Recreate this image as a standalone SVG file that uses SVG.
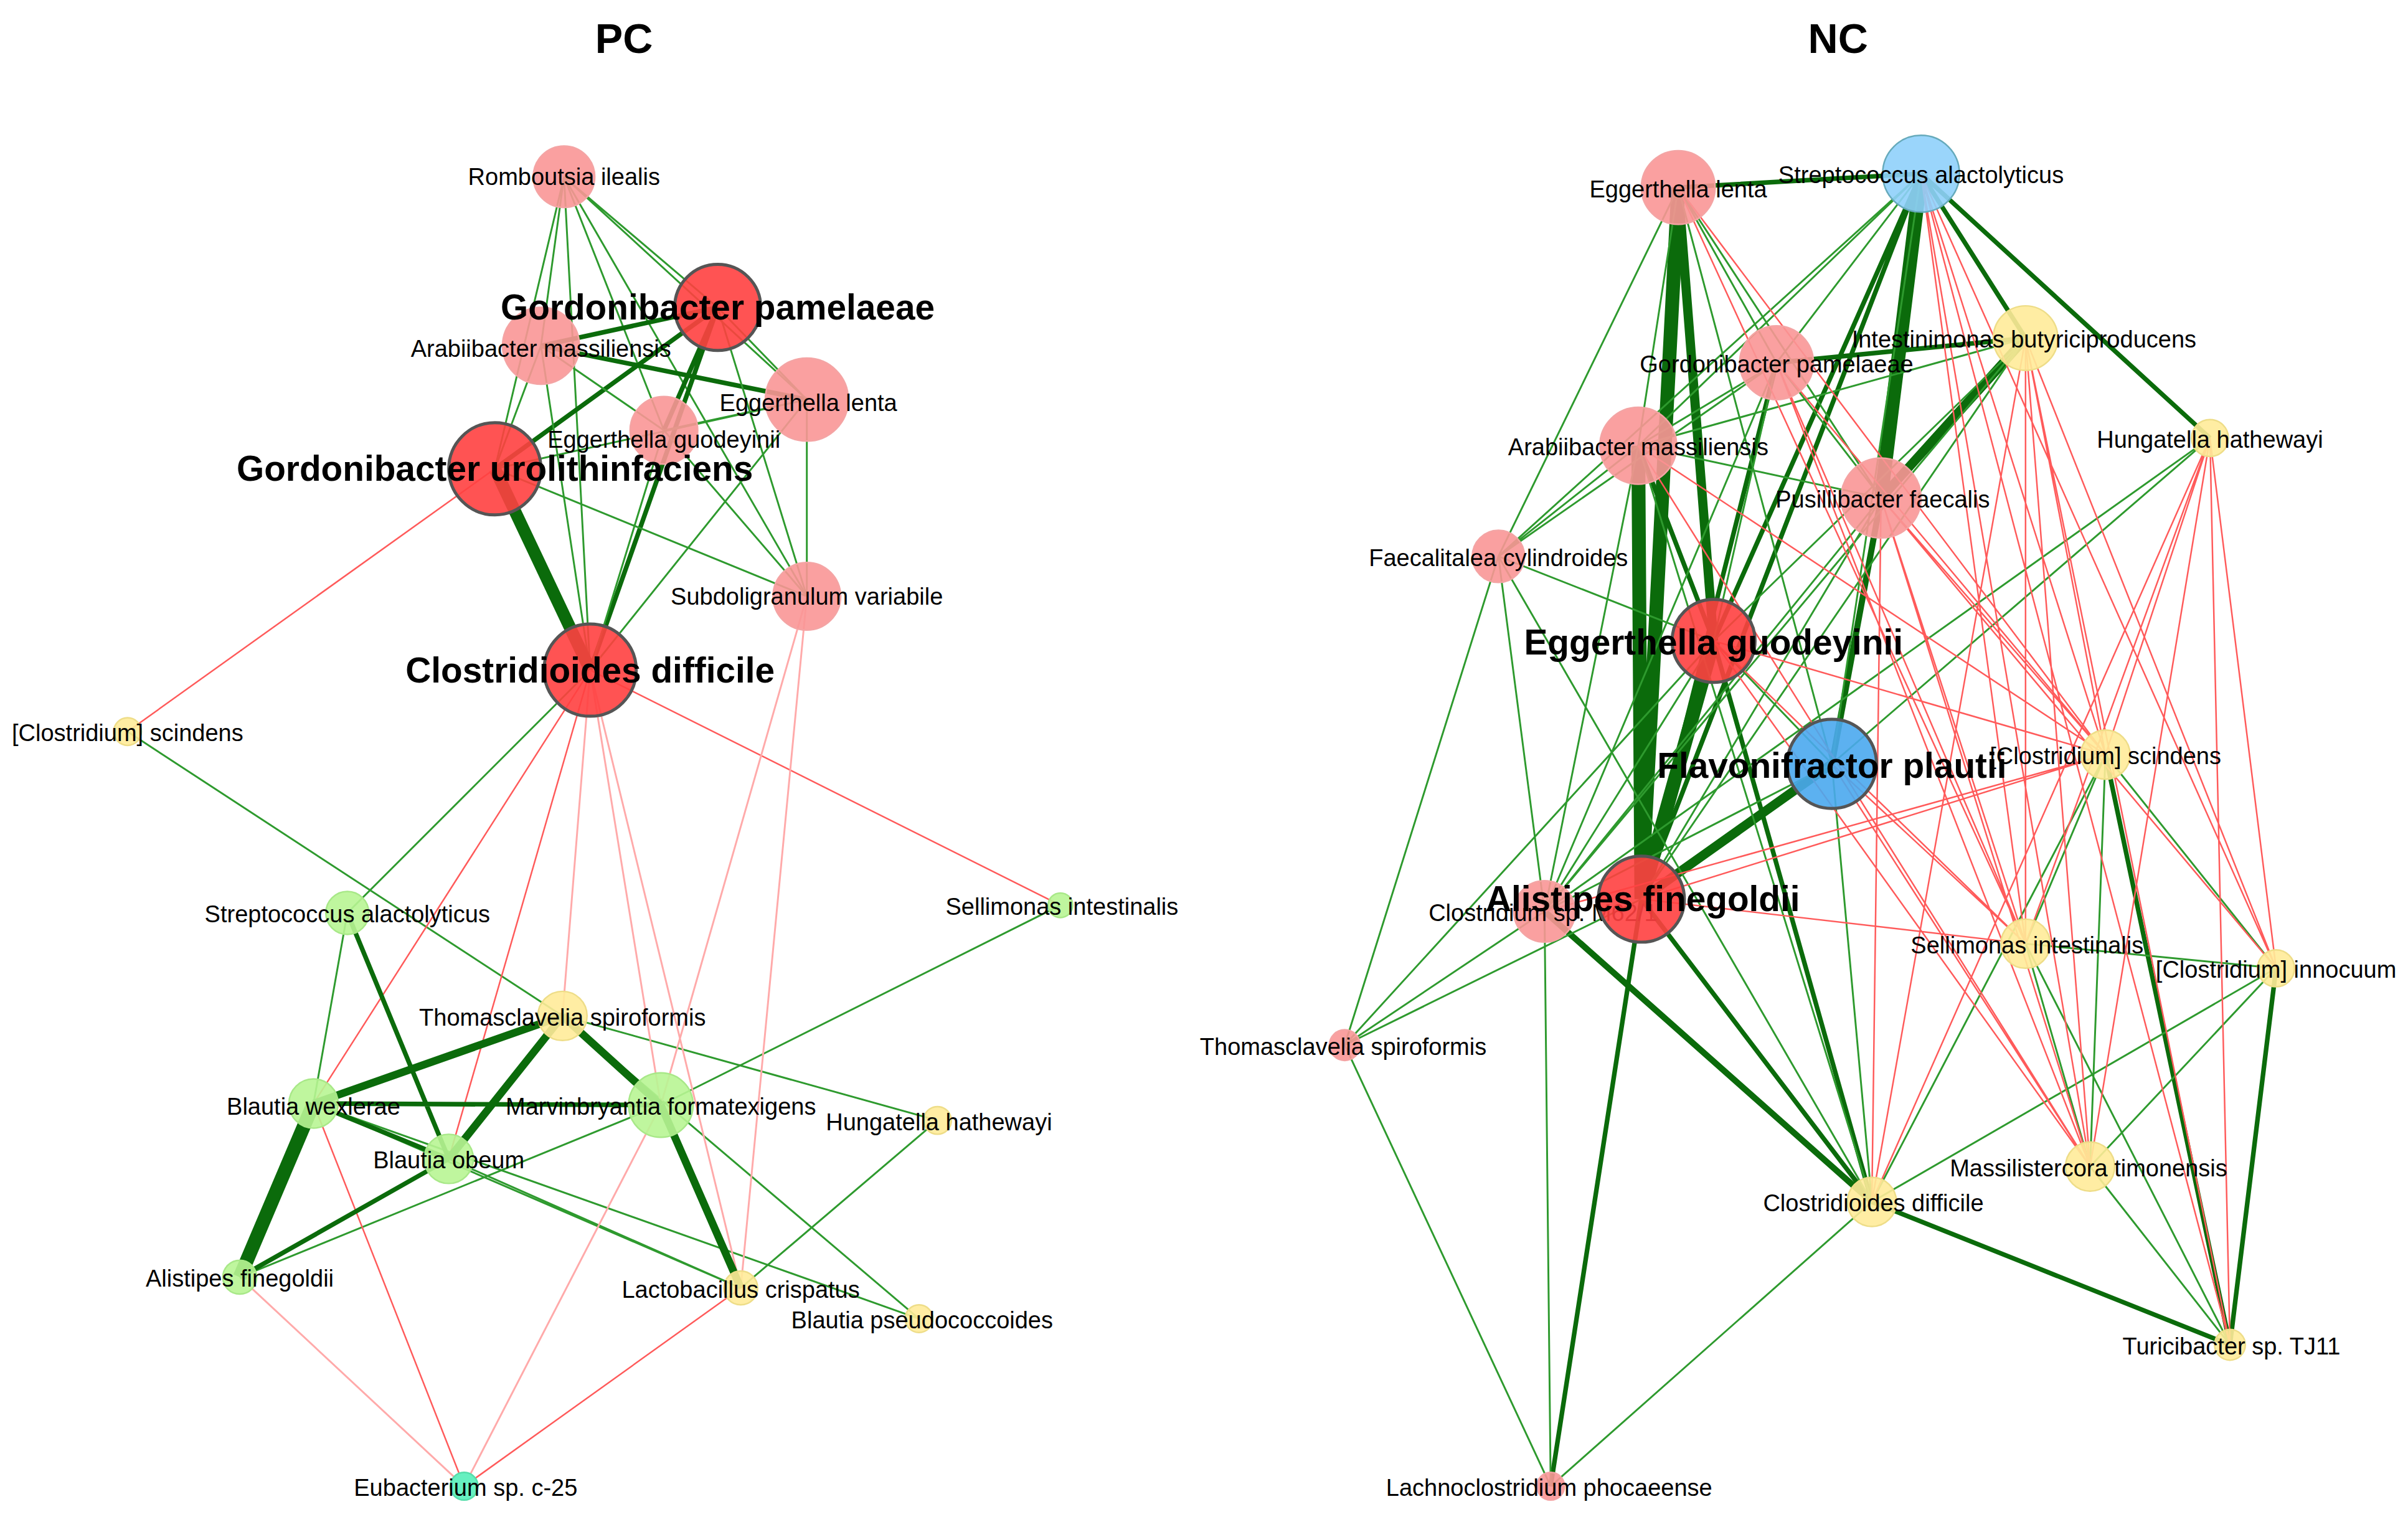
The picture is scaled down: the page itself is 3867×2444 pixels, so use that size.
<svg xmlns="http://www.w3.org/2000/svg" width="3867" height="2444" viewBox="0 0 3867 2444">
<style>
text{font-family:"Liberation Sans",Arial,sans-serif;fill:#000;text-anchor:middle;dominant-baseline:central}
.l{font-size:15.4px}
.b{font-size:23px;font-weight:bold}
.t{font-size:27px;font-weight:bold}
.g{stroke:#2e9a2e;stroke-width:1.2;fill:none}
.G{stroke:#0b6b0b;fill:none}
.r{stroke:#ff5a5a;stroke-width:1;fill:none}
.p{stroke:#ffaaaa;stroke-width:1.2;fill:none}
.lr{fill:#fa9696;fill-opacity:.9;stroke:#f4a4a4}
.dr{fill:#ff4040;fill-opacity:.9;stroke:#555;stroke-width:2}
.y{fill:#ffeb99;fill-opacity:.9;stroke:#eedd88}
.lg{fill:#b8f593;fill-opacity:.9;stroke:#a8e888}
.aq{fill:#66f0c0;stroke:#55ddaa}
.lb{fill:#8fd0fb;fill-opacity:.9;stroke:#6ab}
.bb{fill:#4aa8ee;fill-opacity:.9;stroke:#555;stroke-width:2}
</style>
<rect width="3867" height="2444" fill="#fff"/>
<g transform="scale(2.468)">
<text class="t" x="406" y="25">PC</text>
<text class="t" x="1196" y="25">NC</text>
<g id="connectors">
<path class="g" d="M367 115L467 200M367 115L352 225M367 115L525 260M367 115L432 280M367 115L322 305M367 115L384 436M367 115L525 388"/>
<path class="G" stroke-width="3" d="M467 200L352 225M467 200L432 280M467 200L322 305M467 200L384 436M352 225L525 260"/>
<path class="g" d="M467 200L525 260M467 200L525 388M352 225L432 280M352 225L322 305M352 225L384 436M525 260L432 280M525 260L322 305M525 260L525 388M525 260L384 436M432 280L525 388M432 280L384 436M322 305L525 388"/>
<path class="G" stroke-width="8" d="M322 305L384 436"/>
<path class="r" d="M322 305L83 476"/>
<path class="g" d="M384 436L226 594M83 476L366 661M690 589L430 719M226 594L204 718M366 661L610 729M366 661L598 858M204 718L598 858M430 719L156 831M482 838L610 729M292 754L482 838M204 718L482 838"/>
<path class="r" d="M384 436L690 589M384 436L204 718M384 436L292 754M302 967L204 718M302 967L482 838"/>
<path class="p" d="M384 436L366 661M384 436L430 719M384 436L482 838M525 388L482 838M525 388L430 719M156 831L302 967M302 967L430 719"/>
<path class="G" stroke-width="3" d="M226 594L292 754M204 718L430 719M156 831L292 754M204 718L292 754"/>
<path class="G" stroke-width="5" d="M204 718L366 661M292 754L366 661M366 661L430 719M430 719L482 838"/>
<path class="G" stroke-width="9" d="M204 718L156 831"/>
<path class="G" stroke-width="3" d="M1092 122L1250 113M1250 113L1318 220M1250 113L1438 285M1250 113L1115 417M1250 113L1068 585M1156 236L1068 585M1066 290L1115 417M1115 417L1218 782M1370 491L1451 875M1481 630L1451 875M1218 782L1451 875M1068 585L1218 782M1068 585L1009 967M1156 236L1318 220"/>
<path class="G" stroke-width="6" d="M1092 122L1115 417M1192 497L1068 585M1318 220L1224 324"/>
<path class="G" stroke-width="9" d="M1092 122L1068 585M1250 113L1224 324M1066 290L1068 585M1115 417L1068 585"/>
<path class="G" stroke-width="4" d="M1224 324L1192 497M1005 593L1218 782"/>
<path class="g" d="M1092 122L1156 236M1092 122L1066 290M1092 122L1224 324M1092 122L1192 497M1092 122L975 362M1250 113L1156 236M1250 113L1066 290M1250 113L1192 497M1250 113L975 362M1318 220L1066 290M1318 220L1115 417M1318 220L1068 585M1318 220L1005 593M1438 285L1192 497M1438 285L1005 593M1156 236L1066 290M1156 236L1224 324M1156 236L1115 417M1156 236L975 362M1156 236L1005 593M1066 290L975 362M1066 290L1224 324M1066 290L1005 593M975 362L1005 593M975 362L1115 417M975 362L875 680M1224 324L1005 593M1224 324L1068 585M1115 417L1192 497M1115 417L1005 593M1115 417L875 680M1192 497L1005 593M1192 497L1218 782M1068 585L875 680M1005 593L875 680M1005 593L1009 967M875 680L1009 967M1218 782L1009 967M1370 491L1318 614M1370 491L1360 759M1370 491L1218 782M1318 614L1360 759M1318 614L1451 875M1481 630L1360 759M1481 630L1218 782M1481 630L1318 614M1360 759L1451 875M1370 491L1481 630M1066 290L1218 782M975 362L1218 782"/>
<path class="r" d="M1318 220L1370 491M1318 220L1318 614M1318 220L1481 630M1318 220L1360 759M1318 220L1218 782M1438 285L1370 491M1438 285L1318 614M1438 285L1481 630M1438 285L1360 759M1438 285L1218 782M1438 285L1451 875M1224 324L1370 491M1224 324L1318 614M1224 324L1481 630M1224 324L1360 759M1250 113L1370 491M1250 113L1318 614M1250 113L1481 630M1250 113L1360 759M1250 113L1451 875M1156 236L1370 491M1156 236L1318 614M1156 236L1360 759M1092 122L1370 491M1092 122L1318 614M1066 290L1370 491M1066 290L1360 759M1115 417L1370 491M1115 417L1318 614M1115 417L1360 759M1192 497L1318 614M1192 497L1360 759M1068 585L1318 614M1068 585L1370 491M1005 593L1370 491M1224 324L1218 782M1318 220L1451 875"/>
</g>
<g id="pc_romboutsia"><circle class="lr" cx="367" cy="115" r="20"/><text class="l" x="367" y="115">Romboutsia ilealis</text></g>
<g id="pc_arabiibacter"><circle class="lr" cx="352" cy="225" r="25"/><text class="l" x="352" y="227">Arabiibacter massiliensis</text></g>
<g id="pc_gpamelaeae"><circle class="dr" cx="467" cy="200" r="28"/><text class="b" x="467" y="200">Gordonibacter pamelaeae</text></g>
<g id="pc_elenta"><circle class="lr" cx="525" cy="260" r="27"/><text class="l" x="526" y="262">Eggerthella lenta</text></g>
<g id="pc_eguodeyinii"><circle class="lr" cx="432" cy="280" r="22"/><text class="l" x="432" y="286">Eggerthella guodeyinii</text></g>
<g id="pc_guro"><circle class="dr" cx="322" cy="305" r="30"/><text class="b" x="322" y="305">Gordonibacter urolithinfaciens</text></g>
<g id="pc_subdoli"><circle class="lr" cx="525" cy="388" r="22"/><text class="l" x="525" y="388">Subdoligranulum variabile</text></g>
<g id="pc_cdiff"><circle class="dr" cx="384" cy="436" r="30"/><text class="b" x="384" y="436">Clostridioides difficile</text></g>
<g id="pc_scindens"><circle class="y" cx="83" cy="476" r="9"/><text class="l" x="83" y="477">[Clostridium] scindens</text></g>
<g id="pc_sellimonas"><circle class="lg" cx="690" cy="589" r="8"/><text class="l" x="691" y="590">Sellimonas intestinalis</text></g>
<g id="pc_strep"><circle class="lg" cx="226" cy="594" r="14"/><text class="l" x="226" y="595">Streptococcus alactolyticus</text></g>
<g id="pc_thomas"><circle class="y" cx="366" cy="661" r="16"/><text class="l" x="366" y="662">Thomasclavelia spiroformis</text></g>
<g id="pc_bwex"><circle class="lg" cx="204" cy="718" r="16"/><text class="l" x="204" y="720">Blautia wexlerae</text></g>
<g id="pc_marv"><circle class="lg" cx="430" cy="719" r="21"/><text class="l" x="430" y="720">Marvinbryantia formatexigens</text></g>
<g id="pc_hung"><circle class="y" cx="610" cy="729" r="9"/><text class="l" x="611" y="730">Hungatella hathewayi</text></g>
<g id="pc_bobeum"><circle class="lg" cx="292" cy="754" r="16"/><text class="l" x="292" y="755">Blautia obeum</text></g>
<g id="pc_alistipes"><circle class="lg" cx="156" cy="831" r="11"/><text class="l" x="156" y="832">Alistipes finegoldii</text></g>
<g id="pc_lacto"><circle class="y" cx="482" cy="838" r="11"/><text class="l" x="482" y="839">Lactobacillus crispatus</text></g>
<g id="pc_bpseudo"><circle class="y" cx="598" cy="858" r="9"/><text class="l" x="600" y="859">Blautia pseudococcoides</text></g>
<g id="pc_eubact"><circle class="aq" cx="302" cy="967" r="9"/><text class="l" x="303" y="968">Eubacterium sp. c-25</text></g>
<g id="nc_elenta"><circle class="lr" cx="1092" cy="122" r="24"/><text class="l" x="1092" y="123">Eggerthella lenta</text></g>
<g id="nc_strep"><circle class="lb" cx="1250" cy="113" r="25"/><text class="l" x="1250" y="114">Streptococcus alactolyticus</text></g>
<g id="nc_intest"><circle class="y" cx="1318" cy="220" r="21"/><text class="l" x="1317" y="221">Intestinimonas butyriciproducens</text></g>
<g id="nc_gpam"><circle class="lr" cx="1156" cy="236" r="24"/><text class="l" x="1156" y="237">Gordonibacter pamelaeae</text></g>
<g id="nc_arab"><circle class="lr" cx="1066" cy="290" r="25"/><text class="l" x="1066" y="291">Arabiibacter massiliensis</text></g>
<g id="nc_hung"><circle class="y" cx="1438" cy="285" r="12"/><text class="l" x="1438" y="286">Hungatella hathewayi</text></g>
<g id="nc_pusill"><circle class="lr" cx="1224" cy="324" r="26"/><text class="l" x="1225" y="325">Pusillibacter faecalis</text></g>
<g id="nc_faecal"><circle class="lr" cx="975" cy="362" r="17"/><text class="l" x="975" y="363">Faecalitalea cylindroides</text></g>
<g id="nc_eguod"><circle class="dr" cx="1115" cy="417" r="27"/><text class="b" x="1115" y="418">Eggerthella guodeyinii</text></g>
<g id="nc_flavo"><circle class="bb" cx="1192" cy="497" r="29"/><text class="b" x="1192" y="498">Flavonifractor plautii</text></g>
<g id="nc_scindens"><circle class="y" cx="1370" cy="491" r="16"/><text class="l" x="1370" y="492">[Clostridium] scindens</text></g>
<g id="nc_m62"><circle class="lr" cx="1005" cy="593" r="20"/><text class="l" x="1004" y="594">Clostridium sp. M62/1</text></g>
<g id="nc_alist"><circle class="dr" cx="1068" cy="585" r="28"/><text class="b" x="1069" y="585">Alistipes finegoldii</text></g>
<g id="nc_sell"><circle class="y" cx="1318" cy="614" r="16"/><text class="l" x="1319" y="615">Sellimonas intestinalis</text></g>
<g id="nc_innoc"><circle class="y" cx="1481" cy="630" r="12"/><text class="l" x="1481" y="631">[Clostridium] innocuum</text></g>
<g id="nc_thomas"><circle class="lr" cx="875" cy="680" r="10"/><text class="l" x="874" y="681">Thomasclavelia spiroformis</text></g>
<g id="nc_massil"><circle class="y" cx="1360" cy="759" r="16"/><text class="l" x="1359" y="760">Massilistercora timonensis</text></g>
<g id="nc_cdiff"><circle class="y" cx="1218" cy="782" r="16"/><text class="l" x="1219" y="783">Clostridioides difficile</text></g>
<g id="nc_turici"><circle class="y" cx="1451" cy="875" r="10"/><text class="l" x="1452" y="876">Turicibacter sp. TJ11</text></g>
<g id="nc_lachno"><circle class="lr" cx="1009" cy="967" r="9"/><text class="l" x="1008" y="968">Lachnoclostridium phocaeense</text></g>
</g>
</svg>
